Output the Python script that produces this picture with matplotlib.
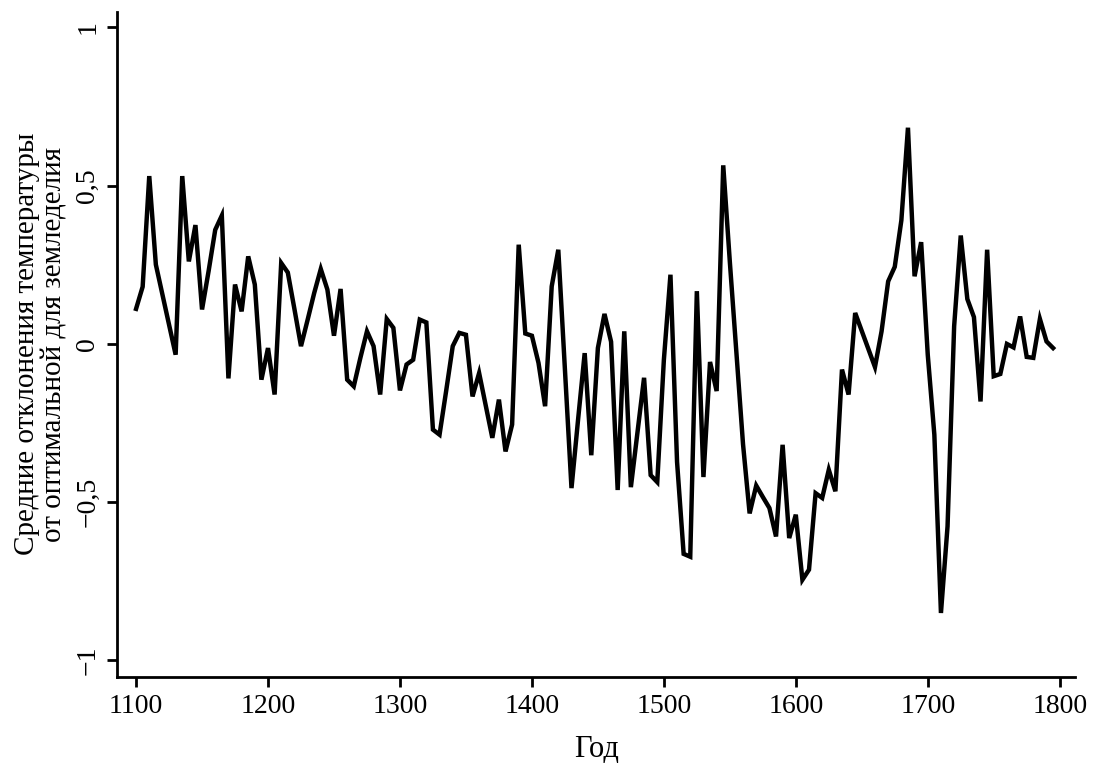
import matplotlib
matplotlib.use("Agg")
import matplotlib.pyplot as plt

plt.rcParams['font.family'] = ['Liberation Serif', 'DejaVu Serif']

# Годы (шаг 5 лет) и средние отклонения температуры
years = list(range(1100, 1800, 5))
values = [
    0.11, 0.18, 0.53, 0.25, 0.155, 0.06, -0.035, 0.53, 0.26, 0.375,      # 1100-1145
    0.108, 0.23, 0.36, 0.405, -0.11, 0.187, 0.102, 0.276, 0.187, -0.114,  # 1150-1195
    -0.014, -0.161, 0.255, 0.225, 0.11, -0.008, 0.075, 0.16, 0.236, 0.171,  # 1200-1245
    0.025, 0.173, -0.114, -0.135, -0.045, 0.039, -0.008, -0.161, 0.078, 0.05,  # 1250-1295
    -0.148, -0.066, -0.051, 0.076, 0.067, -0.272, -0.288, -0.15, -0.008, 0.034,  # 1300-1345
    0.028, -0.167, -0.093, -0.195, -0.298, -0.177, -0.341, -0.256, 0.313, 0.032,  # 1350-1395
    0.025, -0.061, -0.198, 0.181, 0.297, -0.08, -0.457, -0.24, -0.03, -0.353,  # 1400-1445
    -0.014, 0.094, 0.006, -0.463, 0.039, -0.454, -0.28, -0.108, -0.416, -0.438,  # 1450-1495
    -0.052, 0.218, -0.374, -0.665, -0.674, 0.166, -0.422, -0.058, -0.15, 0.564,  # 1500-1545
    0.259, -0.03, -0.318, -0.537, -0.449, -0.485, -0.52, -0.61, -0.32, -0.615,  # 1550-1595
    -0.541, -0.747, -0.715, -0.473, -0.488, -0.399, -0.467, -0.082, -0.161, 0.097,  # 1600-1645
    0.04, -0.017, -0.074, 0.039, 0.197, 0.243, 0.39, 0.683, 0.213, 0.321,  # 1650-1695
    -0.035, -0.288, -0.852, -0.578, 0.055, 0.342, 0.141, 0.084, -0.183, 0.297,  # 1700-1745
    -0.103, -0.096, -0.001, -0.012, 0.086, -0.042, -0.045, 0.078, 0.007, -0.014,  # 1750-1795
]

ytick_vals = [-1, -0.5, 0, 0.5, 1]
ytick_labels = ['\u22121', '\u22120,5', '0', '0,5', '1']
xtick_vals = list(range(1100, 1801, 100))

fig = plt.figure(figsize=(10.94, 7.78), dpi=100)
ax = fig.add_axes([0.107, 0.130, 0.876, 0.855])

ax.plot(years, values, color='black', linewidth=3.2, solid_joinstyle='miter')

ax.set_xlim(1085.6, 1811.9)
ax.set_ylim(-1.054, 1.05)

ax.set_xticks(xtick_vals)
ax.set_xticklabels([str(x) for x in xtick_vals], fontsize=20)
ax.set_yticks(ytick_vals)
ax.set_yticklabels(ytick_labels, fontsize=20, rotation=90, va='center')

for side in ['top', 'right']:
    ax.spines[side].set_visible(False)
for side in ['left', 'bottom']:
    ax.spines[side].set_linewidth(2.0)
ax.tick_params(direction='out', length=7, width=2.0, pad=5)

ax.set_xlabel('Год', fontsize=22, labelpad=12)
ax.set_ylabel('Средние отклонения температуры\nот оптимальной для земледелия',
              fontsize=21, labelpad=6, linespacing=1.05)

fig.savefig('out.png', dpi=100)
